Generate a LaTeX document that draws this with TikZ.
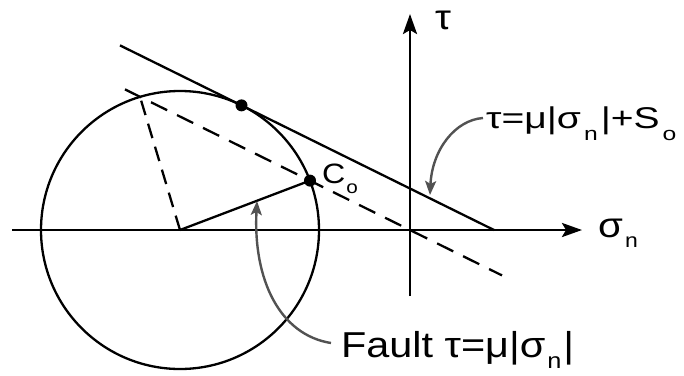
\documentclass[tikz,border=0pt]{standalone}
\usepackage{fontspec}
\setmainfont{Liberation Sans}[FakeStretch=1.15]
\newfontfamily\eqfont{Liberation Sans}[FakeStretch=1.3]
\usetikzlibrary{arrows.meta,calc}
\newcommand{\subsc}[4]{\hspace{#4}\raisebox{-#3}{\fontsize{#2}{#2}\selectfont #1}\hspace{#4}}
\begin{document}
\begin{tikzpicture}[x=1pt,y=-1pt, line width=2.3pt,
 axis/.style={line width=2.8pt,-{Stealth[length=20pt,width=14pt,inset=4pt]}},
 pointer/.style={draw=black!68,line width=2.4pt,-{Stealth[length=14pt,width=11pt,inset=3pt]}},
 lbl/.style={font=\fontsize{35}{40}\selectfont, inner sep=0pt},
 dot/.style={circle,fill=black,inner sep=0pt,minimum size=12pt},
 dashline/.style={dash pattern=on 18pt off 11pt}]
\useasboundingbox (0,0) rectangle (684,375);
\coordinate (O) at (180,230);
\coordinate (X0) at (12,230);
\coordinate (X1) at (582,230);
\coordinate (Y0) at (410,296);
\coordinate (Y1) at (410,14);
\draw[axis] (X0) -- (X1);
\draw[axis] (Y0) -- (Y1);
\draw (O) circle[radius=139];
\coordinate (L1) at (120,45.4);
\coordinate (L2) at (494,230);
\draw (L1) -- (L2);
\coordinate (T) at ($(L1)!(O)!(L2)$);
\coordinate (F1) at (125,89.4);
\coordinate (F2) at (502,275.4);
\draw[dashline] (F1) -- (F2);
\coordinate (C) at (310,180.6);
\coordinate (A) at (140,96.8);
\draw[dash pattern=on 15pt off 9pt] (O) -- (A);
\draw (O) -- (C);
\node[dot] (Cdot) at (C) {};
\node[dot] (Tdot) at (T) {};
\node[lbl] (tau) at (443,20) {τ};
\node[lbl, anchor=base west, font=\eqfont\fontsize{30}{36}\selectfont] (eq1) at (485,128) {τ=μ|σ\subsc{n}{19pt}{12pt}{3pt}|+S\subsc{o}{19pt}{12pt}{3pt}};
\node[lbl, anchor=base west] (sig) at (597,237) {σ\subsc{n}{20pt}{10pt}{2pt}};
\node[lbl, anchor=base west, font=\fontsize{28}{34}\selectfont] (co) at (321,183) {C\subsc{o}{18pt}{10pt}{1pt}};
\node[lbl, anchor=base west, font=\fontsize{36}{40}\selectfont] (eq2) at (340,357) {Fault τ=μ|σ\subsc{n}{22pt}{11pt}{2pt}|};
\coordinate (p1s) at (483,118);
\coordinate (p1e) at (430,195);
\draw[pointer] (p1s) .. controls (455,120) and (432,150) .. (p1e);
\coordinate (p2s) at (331,343);
\coordinate (p2e) at (257,201);
\draw[pointer] (p2s) .. controls (280,335) and (253,280) .. (p2e);
\end{tikzpicture}
\end{document}
